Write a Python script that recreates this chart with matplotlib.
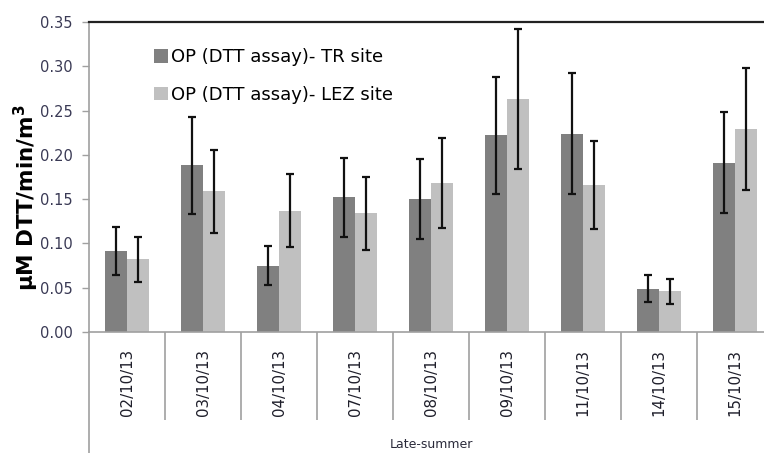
import numpy as np
import matplotlib.pyplot as plt
from matplotlib.lines import Line2D

dates = ['02/10/13', '03/10/13', '04/10/13', '07/10/13', '08/10/13',
         '09/10/13', '11/10/13', '14/10/13', '15/10/13']
tr_vals = [0.091, 0.188, 0.075, 0.152, 0.150, 0.222, 0.224, 0.049, 0.191]
tr_err = [0.027, 0.055, 0.022, 0.045, 0.045, 0.066, 0.068, 0.015, 0.057]
lez_vals = [0.082, 0.159, 0.137, 0.134, 0.168, 0.263, 0.166, 0.046, 0.229]
lez_err = [0.025, 0.047, 0.041, 0.041, 0.051, 0.079, 0.050, 0.014, 0.069]
group_label = 'Late-summer'

W, H = 764, 453
fig = plt.figure(figsize=(W/100, H/100), dpi=100)
ax = fig.add_axes([89/W, 1 - 332/H, 684/W, 310/H])

x = np.arange(len(dates))
bw = 0.29
ax.bar(x - bw/2, tr_vals, bw, color='#808080', label='OP (DTT assay)- TR site')
ax.bar(x + bw/2, lez_vals, bw, color='#c0c0c0', label='OP (DTT assay)- LEZ site')
ax.errorbar(x - bw/2, tr_vals, yerr=tr_err, fmt='none', ecolor='#111111',
            elinewidth=1.6, capsize=3, capthick=1.6)
ax.errorbar(x + bw/2, lez_vals, yerr=lez_err, fmt='none', ecolor='#111111',
            elinewidth=1.6, capsize=3, capthick=1.6)

ax.set_xlim(-0.5, len(dates) - 0.5)
ax.set_ylim(0, 0.35)
ax.set_yticks(np.arange(0, 0.351, 0.05))
ax.set_yticklabels([f'{v:.2f}' for v in np.arange(0, 0.351, 0.05)])

# category labels, separators below the axis
ax.set_xticks(x)
ax.set_xticklabels(dates, rotation=90, fontsize=10.8, color='#1e1e2a')
ax.set_xticks(np.arange(0.5, len(dates) - 0.5, 1), minor=True)
ax.tick_params(axis='x', which='major', length=0, pad=12)
ax.tick_params(axis='x', which='minor', length=63, width=1.2, color='#a0a0a0',
               direction='out')
ax.tick_params(axis='y', length=4.8, width=1, color='#a0a0a0', direction='out',
               labelsize=10.5, labelcolor='#3a3a55', pad=7)
for lab in ax.get_xticklabels():
    lab.set_verticalalignment('top')

for s in ['left', 'bottom']:
    ax.spines[s].set_color('#a0a0a0')
    ax.spines[s].set_linewidth(1.2)
ax.spines['top'].set_color('#222222')
ax.spines['top'].set_linewidth(1.6)
ax.spines['right'].set_visible(False)

# left axis line continues down through the label area
ax.add_line(Line2D([-0.5, -0.5], [0, -0.4], transform=ax.transData,
                   color='#a0a0a0', lw=1.2, clip_on=False))

ax.text(0.5, (332 - 444) / 310, group_label, transform=ax.transAxes,
        ha='center', va='center', fontsize=9, color='#2a2a3a')

ax.set_ylabel('µM DTT/min/m$^\\mathbf{3}$', fontsize=15.5, fontweight='bold')
ax.yaxis.set_label_coords((41 - 89) / 684, 0.432)

leg = ax.legend(loc='upper left', bbox_to_anchor=(58/684, 1 - 19/310),
                frameon=False, fontsize=13, handlelength=0.75, handleheight=0.75,
                handletextpad=0.2, labelspacing=1.1, borderaxespad=0)

fig.savefig('out.png', dpi=100)
